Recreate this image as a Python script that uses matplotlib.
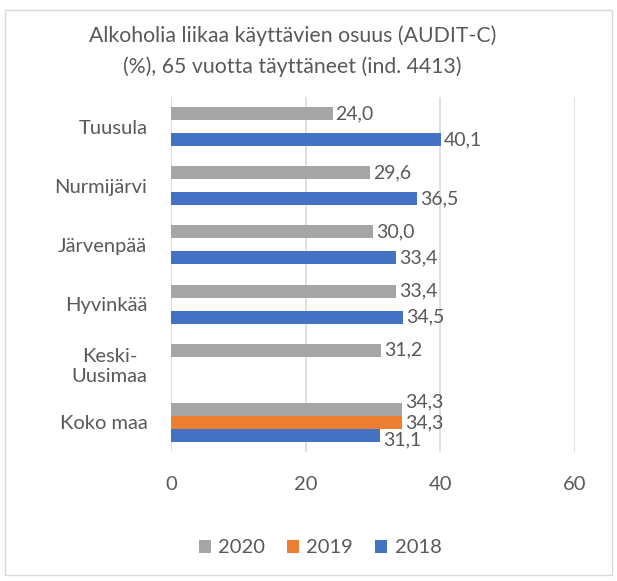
import numpy as np
import matplotlib.pyplot as plt
from matplotlib.patches import Rectangle

plt.rcParams['font.family'] = ['Lato', 'DejaVu Sans']

categories = ['Tuusula', 'Nurmijärvi', 'Järvenpää', 'Hyvinkää', 'Keski-\nUusimaa', 'Koko maa']
years = ['2020', '2019', '2018']
v2020 = [24.0, 29.6, 30.0, 33.4, 31.2, 34.3]
v2019 = [None, None, None, None, None, 34.3]
v2018 = [40.1, 36.5, 33.4, 34.5, None, 31.1]
colors = ['#a5a5a5', '#ed7d31', '#4472c4']
txt = '#595959'

fig = plt.figure(figsize=(6.17, 5.81), dpi=100)
fig.patches.append(Rectangle((0.008, 0.01), 0.984, 0.972, transform=fig.transFigure,
                             fill=False, edgecolor='#d9d9d9', lw=1))
ax = fig.add_axes([0.277, 0.222, 0.655, 0.611])

y = np.arange(len(categories))
h = 0.22
series = [v2020, v2019, v2018]
offsets = [-h, 0, h]
# nudge of the crowded Koko maa labels (in data units)
label_nudge = {(0, 5): -0.12, (2, 5): 0.07}
for s, (vals, off, col, yr) in enumerate(zip(series, offsets, colors, years)):
    xs = [v if v is not None else 0 for v in vals]
    ax.barh(y + off, xs, height=h, color=col, label=yr, zorder=3)
    for i, v in enumerate(vals):
        if v is None:
            continue
        ax.text(v + 0.45, y[i] + off + label_nudge.get((s, i), 0),
                f'{v:.1f}'.replace('.', ','), va='center', ha='left',
                fontsize=14, color=txt, zorder=4)

ax.set_xlim(0, 60)
ax.set_xticks([0, 20, 40, 60])
ax.set_ylim(len(categories) - 0.5, -0.5)
ax.set_yticks(y)
ax.set_yticklabels(categories, multialignment='center')
ax.tick_params(length=0, labelsize=14.5, colors=txt)
ax.tick_params(axis='y', pad=17)
ax.tick_params(axis='x', pad=17)
ax.grid(axis='x', color='#d9d9d9', lw=1.2, zorder=0)
for sp in ax.spines.values():
    sp.set_visible(False)

fig.text(0.474, 0.938, 'Alkoholia liikaa käyttävien osuus (AUDIT-C)', ha='center',
         va='center', fontsize=15.3, color=txt)
fig.text(0.474, 0.885, '(%), 65 vuotta täyttäneet (ind. 4413)', ha='center',
         va='center', fontsize=15.3, color=txt)

ax.legend(loc='center', bbox_to_anchor=(0.519, 0.057), bbox_transform=fig.transFigure,
          ncol=3, frameon=False, fontsize=14.5, labelcolor=txt, handlelength=0.6,
          handleheight=0.6, handletextpad=0.35, columnspacing=1.1)

plt.savefig('out.png', dpi=100)
